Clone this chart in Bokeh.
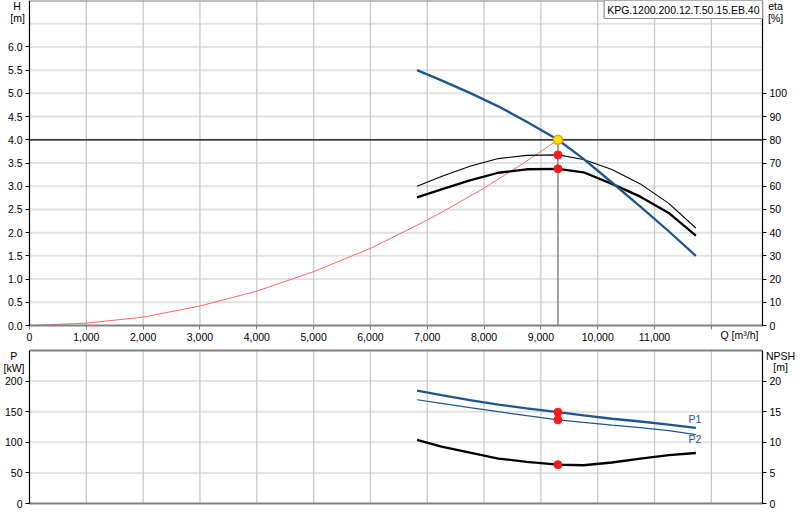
from bokeh.plotting import figure
from bokeh.models import (Range1d, LinearAxis, FixedTicker, NumeralTickFormatter, Label)
from bokeh.layouts import column
from bokeh.embed import file_html
from bokeh.resources import INLINE

# ---------------- data ----------------
q_curve = [6820, 7250, 7750, 8250, 8750, 9300, 9750, 10250, 10750, 11250, 11727]
head = [5.50, 5.28, 5.01, 4.72, 4.39, 4.00, 3.59, 3.08, 2.56, 2.03, 1.50]
eta_thin = [60.0, 64.2, 68.6, 71.9, 73.3, 73.5, 71.5, 67.2, 61.0, 52.6, 42.0]
eta_thick = [55.2, 58.6, 62.5, 65.8, 67.3, 67.5, 66.0, 61.0, 55.5, 48.5, 38.7]
p1 = [184.3, 177.0, 169.0, 161.5, 155.5, 149.2, 144.0, 138.5, 134.0, 129.0, 123.6]
p2 = [169.5, 163.5, 156.8, 150.0, 143.5, 136.7, 132.5, 128.0, 124.0, 119.0, 112.6]
npsh = [10.4, 9.3, 8.3, 7.35, 6.8, 6.35, 6.25, 6.7, 7.35, 7.9, 8.25]

q_sys = [0, 1000, 2000, 3000, 4000, 5000, 6000, 7000, 7300, 8000, 8700, 9300]
h_sys = [0.0, 0.05, 0.18, 0.42, 0.74, 1.16, 1.66, 2.27, 2.47, 2.96, 3.50, 4.00]

q_op = 9300
h_op = 4.00
eta_op = [73.5, 67.5]
p_op = [149.2, 136.7]
npsh_op = 6.35

x_ticks = [0, 1000, 2000, 3000, 4000, 5000, 6000, 7000, 8000, 9000, 10000, 11000, 12000]
h_ticks = [0.0, 0.5, 1.0, 1.5, 2.0, 2.5, 3.0, 3.5, 4.0, 4.5, 5.0, 5.5, 6.0]
h_grid = [0.5, 1.0, 1.5, 2.0, 2.5, 3.0, 3.5, 4.0, 4.5, 5.0, 5.5, 6.0, 6.5]
eta_ticks = [0, 10, 20, 30, 40, 50, 60, 70, 80, 90, 100]
p_ticks = [0, 50, 100, 150, 200]
p_grid = [50, 100, 150, 200]
npsh_ticks = [0, 5, 10, 15, 20]

title_text = "KPG.1200.200.12.T.50.15.EB.40"

# axis extents
X_MAX = 12900
H_MAX = 7.0
ETA_MAX = 140
P_MAX = 250
NPSH_MAX = 25

FONT = "Liberation Sans"
FS = "10.5px"
BLUE = "#1d5591"
GRID_V = "#c9c9c9"
GRID_H = "#e2e2e2"
AXIS_GRAY = "#808080"

# page geometry (pixels)
W = 800
PX_L, PX_R = 29, 762          # left / right data edges
TOP_H, TOP_Y0 = 345, 325      # top canvas height, pixel row of H = 0 (H_MAX at row 0)
BOT_H, BOT_T, BOT_B = 175, 5, 158

ux = X_MAX / (PX_R - PX_L)
x_range = Range1d(-PX_L * ux, X_MAX + (W - PX_R) * ux)

uh = H_MAX / TOP_Y0
top_range = Range1d(-(TOP_H - TOP_Y0) * uh, H_MAX)
eta_range = Range1d(-(TOP_H - TOP_Y0) * uh * ETA_MAX / H_MAX, ETA_MAX)

up = P_MAX / (BOT_B - BOT_T)
p_range = Range1d(-(BOT_H - BOT_B) * up, P_MAX + BOT_T * up)
npsh_range = Range1d(p_range.start * NPSH_MAX / P_MAX, p_range.end * NPSH_MAX / P_MAX)


def make_axis(loc, ticks=None, color="black", width=1.2, bounds=None, labels=True,
              tick_out=4, **kw):
    ax = LinearAxis(fixed_location=loc, bounds=bounds, **kw)
    ax.ticker = FixedTicker(ticks=ticks if ticks is not None else [])
    ax.axis_line_color = color
    ax.axis_line_width = width
    ax.major_tick_line_color = color if tick_out > 0 else None
    ax.major_tick_out = tick_out
    ax.major_tick_in = 0
    ax.minor_tick_line_color = None
    ax.major_label_text_font = FONT
    ax.major_label_text_font_size = FS
    ax.major_label_text_color = "black"
    ax.major_label_standoff = 3
    if not labels:
        ax.major_label_text_alpha = 0
    return ax


def text(p, x, y, t, color="black", align="center", y_range_name="default"):
    p.add_layout(Label(x=x, y=y, text=t, text_font=FONT, text_font_size=FS, text_color=color,
                       text_align=align, text_baseline="middle", y_range_name=y_range_name))


def base_fig(height, yr):
    f = figure(width=W, height=height, x_range=x_range, y_range=yr,
               min_border_left=0, min_border_right=0, min_border_top=0, min_border_bottom=0,
               output_backend="svg", toolbar_location=None,
               x_axis_location=None, y_axis_location=None)
    for g in f.grid:
        g.visible = False
    f.outline_line_color = None
    f.background_fill_color = "white"
    f.border_fill_color = "white"
    return f


# ---------------- top figure ----------------
top = base_fig(TOP_H, top_range)
top.extra_y_ranges = {"eta": eta_range}

# grid
top.segment(x0=0, x1=X_MAX, y0=h_grid, y1=h_grid, line_color=GRID_H, line_width=2,
            level="underlay")
top.segment(x0=x_ticks[1:], x1=x_ticks[1:], y0=0, y1=H_MAX, line_color=GRID_V,
            line_width=1.3, level="underlay")

# axes
top.add_layout(make_axis(0, x_ticks, AXIS_GRAY, 2, (0, X_MAX),
                         formatter=NumeralTickFormatter(format="0,0"),
                         major_label_overrides={12000: ""}), "below")
top.add_layout(make_axis(H_MAX, None, AXIS_GRAY, 2, (0, X_MAX), labels=False, tick_out=0),
               "above")
top.add_layout(make_axis(0, h_ticks, "black", 1.2, (0, H_MAX),
                         formatter=NumeralTickFormatter(format="0.0")), "left")
top.add_layout(make_axis(X_MAX, eta_ticks, "black", 1.2, (0, ETA_MAX), y_range_name="eta"),
               "right")

# duty point lines
top.segment(x0=0, x1=X_MAX, y0=h_op, y1=h_op, line_color="black", line_width=1.2)
top.line(q_sys, h_sys, line_color="#ff6464", line_width=1)
top.segment(x0=q_op, x1=q_op, y0=0, y1=h_op, line_color="#8c8c8c", line_width=1.6)

# curves
top.line(q_curve, eta_thin, y_range_name="eta", line_color="black", line_width=1.1)
top.line(q_curve, eta_thick, y_range_name="eta", line_color="black", line_width=2.3)
top.line(q_curve, head, line_color=BLUE, line_width=2.3)

top.scatter([q_op, q_op], eta_op, y_range_name="eta", size=8, fill_color="#ff1a1a",
            line_color="#ff1a1a")
top.scatter([q_op], [h_op], size=9, fill_color="#ffe600", line_color="#ff9a00", line_width=1.5)

# texts
text(top, -220, 6.89, "H")
text(top, -211, 6.63, "[m]")
text(top, 13129, 6.89, "eta")
text(top, 13129, 6.63, "[%]")
text(top, 12495, -0.215, "Q [m\u00b3/h]")

top.add_layout(Label(x=X_MAX, y=H_MAX, text=title_text, text_font=FONT, text_font_size=FS,
                     text_color="black", text_align="right", text_baseline="top",
                     x_offset=0, y_offset=0, background_fill_color="white",
                     border_line_color="#909090", border_line_width=1.2, padding=3))

# ---------------- bottom figure ----------------
bot = base_fig(BOT_H, p_range)
bot.extra_y_ranges = {"npsh": npsh_range}

bot.segment(x0=0, x1=X_MAX, y0=p_grid, y1=p_grid, line_color=GRID_H, line_width=2,
            level="underlay")
bot.segment(x0=x_ticks[1:], x1=x_ticks[1:], y0=0, y1=P_MAX, line_color=GRID_V,
            line_width=1.3, level="underlay")

bot.add_layout(make_axis(0, None, AXIS_GRAY, 2, (0, X_MAX), labels=False, tick_out=0),
               "below")
bot.add_layout(make_axis(P_MAX, None, AXIS_GRAY, 2, (0, X_MAX), labels=False, tick_out=0),
               "above")
bot.add_layout(make_axis(0, p_ticks, "black", 1.2, (0, P_MAX)), "left")
bot.add_layout(make_axis(X_MAX, npsh_ticks, "black", 1.2, (0, NPSH_MAX), y_range_name="npsh"),
               "right")

bot.line(q_curve, p2, line_color=BLUE, line_width=1.2)
bot.line(q_curve, p1, line_color=BLUE, line_width=2.3)
bot.line(q_curve, npsh, y_range_name="npsh", line_color="black", line_width=2.3)

bot.scatter([q_op, q_op], p_op, size=8, fill_color="#ff1a1a", line_color="#ff1a1a")
bot.scatter([q_op], [npsh_op], y_range_name="npsh", size=8, fill_color="#ff1a1a",
            line_color="#ff1a1a")

text(bot, -276, 240.2, "P")
text(bot, -273, 222.2, "[kW]")
text(bot, 13217, 24.18, "NPSH", y_range_name="npsh")
text(bot, 13217, 22.27, "[m]", y_range_name="npsh")
text(bot, 11710, 137.3, "P1", color=BLUE)
text(bot, 11710, 104.6, "P2", color=BLUE)

layout = column(top, bot, spacing=0)
open("out.html", "w").write(file_html(layout, INLINE))
